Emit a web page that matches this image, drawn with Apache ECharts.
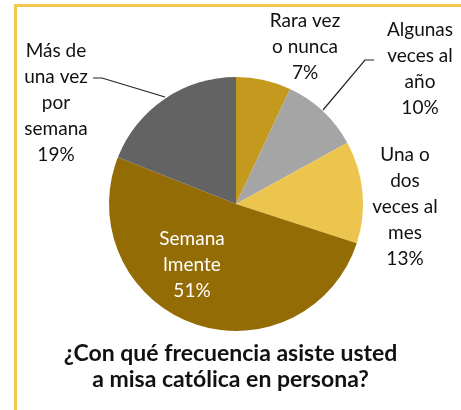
<!DOCTYPE html>
<html>
<head>
<meta charset="utf-8">
<script src="https://cdn.jsdelivr.net/npm/echarts@6/dist/echarts.min.js"></script>
<style>
  html, body { margin: 0; padding: 0; background: #fff; overflow: hidden; }
  .frame {
    position: absolute; left: 14px; top: 4px; width: 600px; height: 600px;
    border-top: 3px solid #f2c94c; border-left: 3px solid #f2c94c;
  }
  #main { position: absolute; left: 0; top: 0; width: 461px; height: 410px; }
</style>
</head>
<body>
<div class="frame"></div>
<div id="main"></div>
<script>
// categorías y porcentajes (en el sentido de las agujas del reloj desde arriba)
var categorias = ['Rara vez\no nunca', 'Algunas\nveces al\naño', 'Una o\ndos\nveces al\nmes', 'Semana\nlmente', 'Más de\nuna vez\npor\nsemana'];
var porcentajes = [7, 10, 13, 51, 19];
var colores = ['#c49a1e', '#a5a5a5', '#ecc54e', '#946c06', '#636363'];
var titulo = '¿Con qué frecuencia asiste usted\na misa católica en persona?';

// dónde va cada etiqueta (centro del bloque de texto) y su línea guía
var posEtiquetas = [
  { x: 305, y: 47 },
  { x: 420, y: 69, line: [[323, 110], [365, 60], [374, 60]] },
  { x: 405, y: 207 },
  { x: 192, y: 265 },
  { x: 56, y: 103, line: [[165, 97], [102, 78], [93, 78]] }
];

var myChart = echarts.init(document.getElementById('main'));
var option = {
  animation: false,
  title: {
    text: titulo,
    left: 'center',
    top: 336,
    textStyle: { fontFamily: 'Lato', fontSize: 23, fontWeight: 'bold', color: '#111', lineHeight: 26 }
  },
  series: [{
    type: 'pie',
    center: [236, 204],
    radius: 127,
    startAngle: 90,
    clockwise: true,
    silent: true,
    data: categorias.map(function (c, i) {
      return {
        name: c,
        value: porcentajes[i],
        itemStyle: { color: colores[i] },
        label: { color: i === 3 ? '#fff' : '#111' },
        labelLine: { show: !!posEtiquetas[i].line }
      };
    }),
    label: {
      position: 'outside',
      formatter: '{b}\n{c}%',
      fontFamily: 'Lato',
      fontSize: 19,
      lineHeight: 26,
      align: 'center',
      overflow: 'none',
      width: 120
    },
    labelLine: { lineStyle: { color: '#222', width: 1.2 } },
    labelLayout: function (params) {
      var p = posEtiquetas[params.dataIndex];
      var res = { x: p.x, y: p.y, align: 'center', verticalAlign: 'middle' };
      if (p.line) res.labelLinePoints = p.line;
      return res;
    }
  }]
};
myChart.setOption(option);
</script>
</body>
</html>
